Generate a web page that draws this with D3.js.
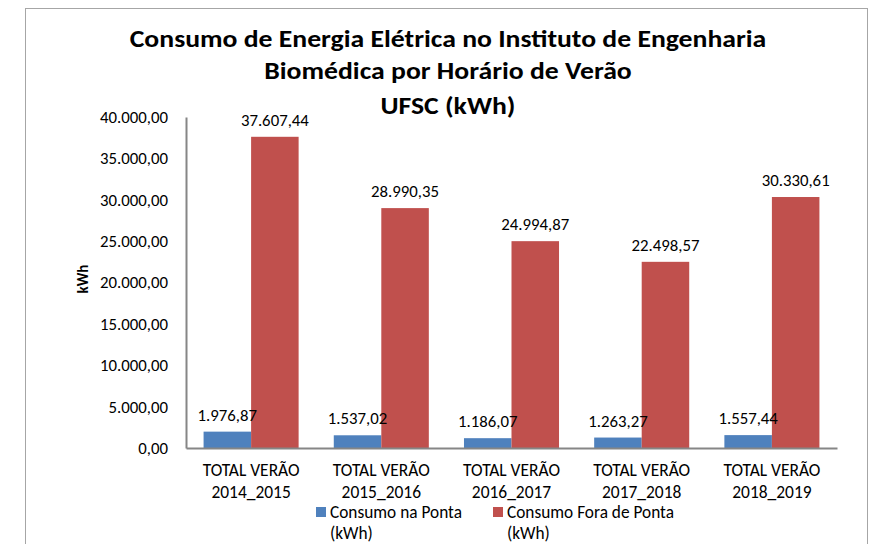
<!DOCTYPE html>
<html><head><meta charset="utf-8">
<script src="https://cdn.jsdelivr.net/npm/d3@7"></script>
<style>
html,body{margin:0;padding:0;background:#fff;}
svg{display:block;font-family:Carlito,Calibri,Lato,"Open Sans",sans-serif;}
</style></head>
<body>
<svg id="chart" width="872" height="544"></svg>
<script>
const categories = ["TOTAL VERÃO\n2014_2015","TOTAL VERÃO\n2015_2016","TOTAL VERÃO\n2016_2017","TOTAL VERÃO\n2017_2018","TOTAL VERÃO\n2018_2019"];
const seriesNames = ["Consumo na Ponta (kWh)","Consumo Fora de Ponta (kWh)"];
const pontaValues = [1976.87, 1537.02, 1186.07, 1263.27, 1557.44];
const foraValues = [37607.44, 28990.35, 24994.87, 22498.57, 30330.61];
const yTicks = [0, 5000, 10000, 15000, 20000, 25000, 30000, 35000, 40000];
const titleLines = ["Consumo de Energia Elétrica no Instituto de Engenharia","Biomédica por Horário de Verão","UFSC (kWh)"];
const colors = ["#4F81BD", "#C0504D"];

const svg = d3.select("#chart");
const fmt = d3.formatLocale({decimal: ",", thousands: ".", grouping: [3], currency: ["", ""]}).format(",.2f");

function fit(sel, target) {
  const w = sel.node().getComputedTextLength();
  const fs = parseFloat(sel.attr("font-size"));
  sel.attr("font-size", fs * target / w);
  return fs * target / w;
}
function measureFs(text, target, weight) {
  const t = svg.append("text").attr("font-size", 16).attr("font-weight", weight || "normal").text(text);
  const fs = fit(t, target);
  t.remove();
  return fs;
}

// frame
svg.append("rect").attr("x", 25.5).attr("y", 8.5).attr("width", 842).attr("height", 560)
  .attr("fill", "none").attr("stroke", "#a6a6a6").attr("stroke-width", 1);

const plot = {left: 186, right: 837, top: 117, bottom: 448};
const x = d3.scaleBand().domain(categories).range([plot.left, plot.right]).paddingInner(0.27).paddingOuter(0.135);
const xs = d3.scaleBand().domain([0, 1]).range([0, x.bandwidth()]);
const y = d3.scaleLinear().domain([0, 40000]).range([plot.bottom, plot.top]);

const numFs = measureFs("40.000,00", 68);
const catFs = measureFs("TOTAL VERÃO", 97);
const legFs = measureFs("Consumo Fora de Ponta", 167);

// title (cap height matched by font size, width matched by horizontal scale)
const tY = [47, 79, 114];
let titleScale = 1;
titleLines.forEach((t, i) => {
  const g = svg.append("g");
  const el = g.append("text").attr("x", 0).attr("y", 0).attr("text-anchor", "middle")
    .attr("font-weight", "bold").attr("font-size", 25).attr("fill", "#000").text(t);
  if (i === 0) titleScale = 637 / el.node().getComputedTextLength();
  g.attr("transform", `translate(448,${tY[i]}) scale(${titleScale},1)`);
});

// y axis
const yAxis = d3.axisLeft(y).tickValues(yTicks).tickSize(0).tickPadding(18).tickFormat(d => fmt(d));
const gy = svg.append("g").attr("transform", `translate(${plot.left},0)`).call(yAxis)
  .attr("font-family", null).attr("font-size", null);
gy.select(".domain").attr("stroke", "#868686").attr("stroke-width", 2);
gy.selectAll("text").attr("font-size", numFs).attr("fill", "#000");

// bars
const groups = svg.append("g").selectAll("g").data(categories).join("g")
  .attr("transform", d => `translate(${x(d)},0)`);
groups.append("rect").attr("x", xs(0)).attr("width", xs.bandwidth())
  .attr("y", (d, i) => y(pontaValues[i])).attr("height", (d, i) => y(0) - y(pontaValues[i])).attr("fill", colors[0]);
groups.append("rect").attr("x", xs(1)).attr("width", xs.bandwidth())
  .attr("y", (d, i) => y(foraValues[i])).attr("height", (d, i) => y(0) - y(foraValues[i])).attr("fill", colors[1]);

// x axis
const xAxis = d3.axisBottom(x).tickSize(0).tickFormat("");
const gx = svg.append("g").attr("transform", `translate(0,${plot.bottom})`).call(xAxis);
gx.select(".domain").attr("stroke", "#868686").attr("stroke-width", 2);

// category labels
const catG = svg.append("g");
categories.forEach((c, i) => {
  c.split("\n").forEach((ln, j) => {
    catG.append("text").attr("x", x(c) + x.bandwidth() / 2).attr("y", 476 + j * 22)
      .attr("text-anchor", "middle").attr("font-size", catFs).attr("fill", "#000").text(ln);
  });
});

// data labels
const lab = svg.append("g");
categories.forEach((c, i) => {
  lab.append("text").attr("x", x(c) + xs(0) + xs.bandwidth() / 2).attr("y", y(pontaValues[i]) - 11)
    .attr("text-anchor", "middle").attr("font-size", numFs).attr("fill", "#000").text(fmt(pontaValues[i]));
  lab.append("text").attr("x", x(c) + xs(1) + xs.bandwidth() / 2).attr("y", y(foraValues[i]) - 11)
    .attr("text-anchor", "middle").attr("font-size", numFs).attr("fill", "#000").text(fmt(foraValues[i]));
});

// y axis title
svg.append("text").attr("transform", "translate(88,279) rotate(-90)").attr("text-anchor", "middle")
  .attr("font-weight", "bold").attr("font-size", 15).attr("fill", "#000").text("kWh");

// legend
const legX = [316, 493];
seriesNames.forEach((s, i) => {
  svg.append("rect").attr("x", legX[i]).attr("y", 507).attr("width", 10).attr("height", 10).attr("fill", colors[i]);
  [s.replace(" (kWh)", ""), "(kWh)"].forEach((p, j) => {
    svg.append("text").attr("x", legX[i] + 14).attr("y", 518 + j * 21).attr("font-size", legFs)
      .attr("fill", "#000").text(p);
  });
});
</script>
</body></html>
